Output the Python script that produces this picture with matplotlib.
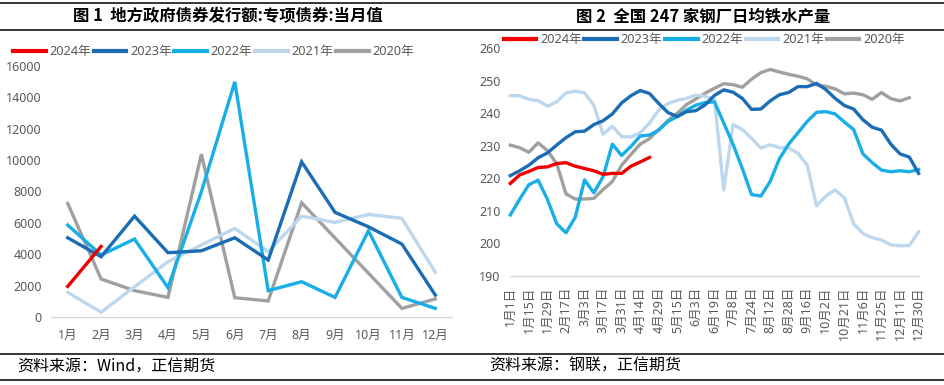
import matplotlib
matplotlib.use('Agg')
import matplotlib.pyplot as plt
from matplotlib.lines import Line2D
import numpy as np

plt.rcParams['font.family'] = ['Noto Sans', 'Noto Sans CJK SC', 'DejaVu Sans']

# ---------------- data: chart 1 (专项债券发行额, 亿元) ----------------
months = ['1月', '2月', '3月', '4月', '5月', '6月', '7月', '8月', '9月', '10月', '11月', '12月']
bond_2024 = [1950, 4500]
bond_2023 = [5050, 3840, 6430, 4100, 4220, 5050, 3630, 9890, 6670, 5750, 4650, 1400]
bond_2022 = [5860, 3950, 4970, 1870, 7980, 14990, 1680, 2250, 1250, 5500, 1250, 550]
bond_2021 = [1570, 300, 1930, 3520, 4590, 5650, 4160, 6430, 6030, 6540, 6290, 2850]
bond_2020 = [7240, 2420, 1680, 1250, 10380, 1230, 1020, 7280, np.nan, np.nan, 550, 1150]

# ---------------- data: chart 2 (247家钢厂日均铁水产量, 万吨) ----------------
week_labels = ['1月1日', '1月15日', '1月29日', '2月17日', '3月3日', '3月17日', '3月31日',
               '4月14日', '4月29日', '5月15日', '6月3日', '6月19日', '7月8日', '7月24日',
               '8月12日', '8月28日', '9月16日', '10月2日', '10月21日', '11月6日',
               '11月25日', '12月11日', '12月30日']
iron_2024 = [218.4, 221.0, 222.1, 223.3, 223.5, 224.5, 224.8, 223.7, 223.0, 222.3,
             221.2, 221.5, 221.5, 223.7, 225.0, 226.4]
iron_2023 = [220.8, 222.3, 224.0, 226.3, 227.8, 230.2, 232.5, 234.3, 234.5, 236.5,
             237.7, 239.8, 243.2, 245.4, 247.0, 246.1, 243.0, 240.2, 239.0, 240.5,
             240.8, 242.6, 245.5, 247.2, 246.5, 244.6, 241.2, 241.3, 243.8, 245.7,
             246.4, 248.2, 248.2, 249.2, 247.3, 244.6, 242.4, 241.3, 238.0, 235.7,
             234.8, 230.5, 227.5, 226.5, 221.5]
iron_2022 = [208.7, 213.5, 218.0, 219.4, 213.5, 206.0, 203.2, 208.0, 219.5, 215.5,
             220.5, 230.5, 227.0, 229.8, 233.0, 233.3, 234.8, 237.5, 239.0, 241.0,
             242.5, 243.3, 243.5, 237.0, 230.5, 223.0, 215.0, 214.5, 219.0, 226.0,
             230.5, 234.0, 237.5, 240.3, 240.5, 239.8, 237.3, 235.0, 227.5, 224.8,
             222.5, 222.0, 222.3, 222.0, 222.7]
iron_2021 = [245.4, 245.4, 244.3, 243.9, 242.2, 243.5, 246.3, 246.8, 246.3, 242.5,
             233.5, 236.0, 232.8, 232.7, 234.0, 237.0, 241.0, 243.0, 244.0, 244.6,
             245.6, 245.2, 244.3, 216.4, 236.5, 235.0, 232.3, 229.3, 230.3, 229.4,
             229.3, 227.7, 224.0, 211.5, 214.5, 216.4, 214.0, 206.0, 203.0, 201.7,
             201.0, 199.5, 199.2, 199.3, 203.5]
iron_2020 = [230.2, 229.4, 228.0, 230.9, 228.5, 224.5, 215.2, 213.6, 213.6, 213.8,
             216.5, 219.0, 224.0, 227.3, 230.5, 232.2, 235.0, 237.8, 240.0, 242.7,
             244.4, 246.2, 247.7, 249.1, 248.8, 248.0, 250.5, 252.5, 253.5, 252.7,
             252.0, 251.4, 250.6, 248.7, 248.3, 247.5, 246.0, 246.2, 245.7, 244.3,
             246.4, 244.5, 243.8, 244.8]

years = ['2024年', '2023年', '2022年', '2021年', '2020年']
colors = ['#F00000', '#1A6DB4', '#19AEE6', '#BDD7EE', '#A0A0A0']

W, H = 944, 385
fig = plt.figure(figsize=(W / 100, H / 100), dpi=100)

def fx(px):
    return px / W

def fy(py):
    return 1 - py / H

label_color = '#595959'
LW = 2.4

# -------- left chart --------
axL = fig.add_axes([fx(51), fy(317), fx(452) - fx(51), fy(66) - fy(317)])
xL = np.arange(len(months))
for vals, c in zip([bond_2024, bond_2023, bond_2022, bond_2021, bond_2020][::-1], colors[::-1]):
    v = np.array(vals, dtype=float)
    x = xL[:len(v)]
    m = ~np.isnan(v)
    axL.plot(x[m], v[m], color=c, lw=LW, solid_joinstyle='miter', clip_on=False)
axL.set_xlim(-0.5, 11.5)
axL.set_ylim(0, 16000)
axL.set_yticks(np.arange(0, 16001, 2000))
axL.set_xticks(xL)
axL.set_xticklabels(months)
for s in ['top', 'right', 'left']:
    axL.spines[s].set_visible(False)
axL.spines['bottom'].set_color('#D9D9D9')
axL.spines['bottom'].set_linewidth(1.0)
axL.tick_params(axis='y', length=0, pad=6.5, labelsize=9, labelcolor=label_color)
axL.tick_params(axis='x', length=0, pad=8.5, labelsize=9, labelcolor=label_color)

handles = [Line2D([], [], color=c, lw=3) for c in colors]
axL.legend(handles, years, loc='center left', bbox_to_anchor=(fx(13), fy(52)),
           bbox_transform=fig.transFigure, ncol=5, frameon=False, borderpad=0,
           borderaxespad=0, handlelength=2.55, handletextpad=0.3, columnspacing=0.2,
           fontsize=9.2, labelcolor=label_color)

# -------- right chart --------
axR = fig.add_axes([fx(510.3), fy(275.7), fx(918.6) - fx(510.3), fy(48.3) - fy(275.7)])
series_R = [iron_2024, iron_2023, iron_2022, iron_2021, iron_2020]
for vals, c in zip(series_R[::-1], colors[::-1]):
    axR.plot(np.arange(len(vals)), vals, color=c, lw=LW, clip_on=False)
axR.set_xlim(0, 44)
axR.set_ylim(190, 260)
axR.set_yticks(np.arange(190, 261, 10))
axR.set_xticks(np.arange(0, 2 * len(week_labels), 2))
axR.set_xticklabels(week_labels, rotation=90, va='top', ha='center')
for s in ['top', 'right', 'left']:
    axR.spines[s].set_visible(False)
axR.spines['bottom'].set_color('#D9D9D9')
axR.spines['bottom'].set_linewidth(1.0)
axR.tick_params(axis='y', length=0, pad=7, labelsize=9, labelcolor=label_color)
axR.tick_params(axis='x', length=0, pad=8, labelsize=9, labelcolor=label_color)
axR.legend(handles, years, loc='center left', bbox_to_anchor=(fx(503.5), fy(40)),
           bbox_transform=fig.transFigure, ncol=5, frameon=False, borderpad=0,
           borderaxespad=0, handlelength=2.55, handletextpad=0.3, columnspacing=0.2,
           fontsize=9.2, labelcolor=label_color)

# -------- frame lines, titles, sources --------
for py in [3.3, 29.5, 354, 380]:
    fig.add_artist(Line2D([0, 1], [fy(py), fy(py)], color='black', lw=1.1,
                          transform=fig.transFigure))

title_font = ['Noto Sans CJK SC', 'DejaVu Sans']
fig.text(fx(228), fy(16.5), '图 1  地方政府债券发行额:专项债券:当月值', ha='center', va='center',
         fontsize=11.8, fontweight='bold', family=title_font)
fig.text(fx(703), fy(16.5), '图 2  全国 247 家钢厂日均铁水产量', ha='center', va='center',
         fontsize=11.8, fontweight='bold', family=title_font)
fig.text(fx(17), fy(366.5), '资料来源：Wind，正信期货', ha='left', va='center',
         fontsize=11.5, family=title_font)
fig.text(fx(489), fy(366.5), '资料来源：钢联，正信期货', ha='left', va='center',
         fontsize=11.5, family=title_font)

fig.savefig('out.png', dpi=100)
